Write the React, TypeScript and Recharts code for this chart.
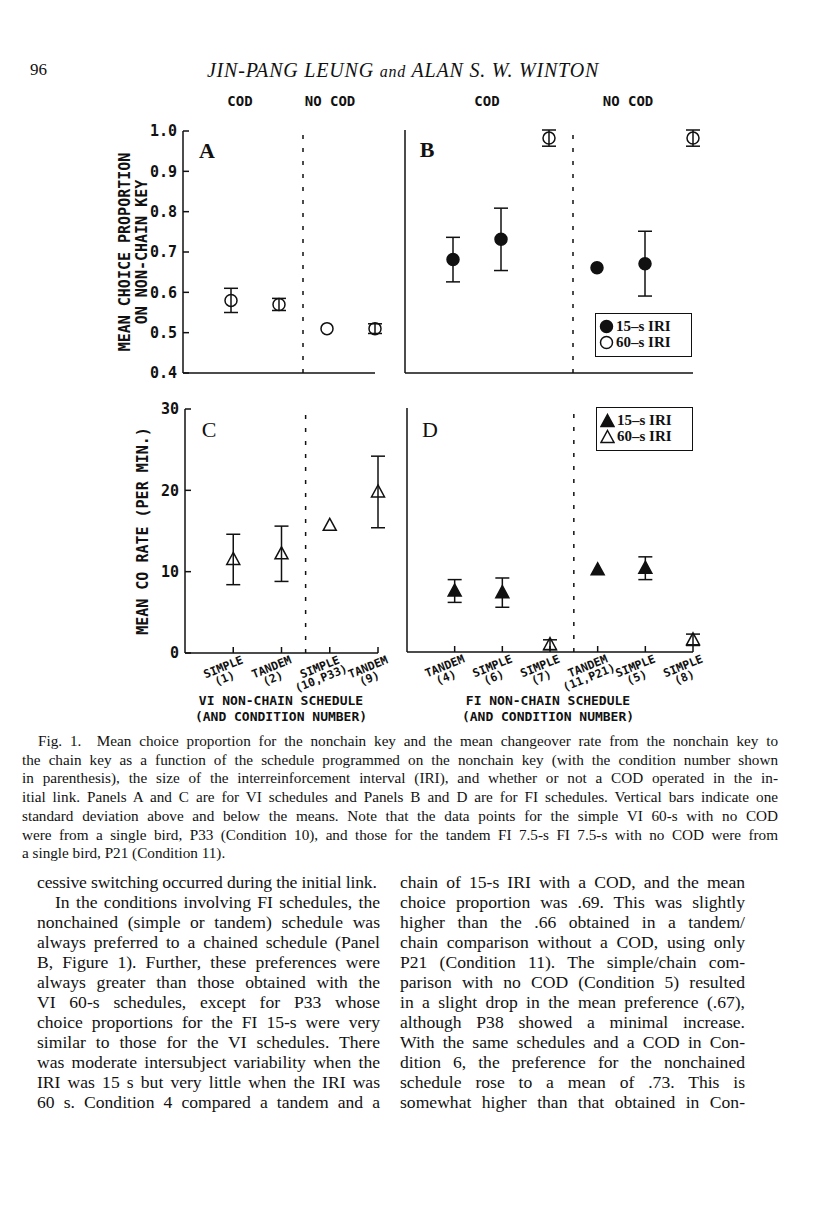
import React from 'react';
import { ScatterChart, Scatter, XAxis, YAxis, ErrorBar, ReferenceLine, Legend } from 'recharts';

// x positions of the schedules on the nonchain key
const viPositions = [1, 2, 3, 4];
const fiPositions = [1, 2, 3, 4, 5, 6];
const viSchedules = ['SIMPLE', 'TANDEM', 'SIMPLE', 'TANDEM'];
const viConditions = ['(1)', '(2)', '(10,P33)', '(9)'];
const fiSchedules = ['TANDEM', 'SIMPLE', 'SIMPLE', 'TANDEM', 'SIMPLE', 'SIMPLE'];
const fiConditions = ['(4)', '(6)', '(7)', '(11,P21)', '(5)', '(8)'];
const viIri = [60, 60, 60, 60];
const fiIri = [15, 15, 60, 15, 15, 60];

// panel A / B : mean choice proportion (+/- 1 SD)
const choiceVI = [0.58, 0.57, 0.51, 0.51];
const choiceVISd = [0.03, 0.015, 0, 0.012];
const choiceFI = [0.68, 0.73, 0.98, 0.66, 0.67, 0.98];
const choiceFISd = [0.055, 0.077, 0.02, 0, 0.08, 0.02];

// panel C / D : mean CO rate per min (+/- 1 SD)
const rateVI = [11.5, 12.2, 15.7, 19.8];
const rateVISd = [3.1, 3.4, 0, 4.4];
const rateFI = [7.5, 7.3, 0.9, 10.1, 10.3, 1.5];
const rateFISd = [1.4, 1.8, 0.6, 0, 1.4, 0.7];

const choiceTicks = [0.4, 0.5, 0.6, 0.7, 0.8, 0.9, 1.0];
const rateTicks = [0, 10, 20, 30];

const INK = '#111';
const MONO = '"DejaVu Sans Mono", monospace';
const SERIF = '"Liberation Serif", "Times New Roman", serif';
const AXIS = { stroke: INK, strokeWidth: 1.5 };

type Row = { x: number; y: number; sd: number; iri: number };

const makeRows = (xs: number[], ys: number[], sds: number[], iri: number[]): Row[] =>
  xs.map((x, i) => ({ x, y: ys[i], sd: sds[i], iri: iri[i] }));

const MarkerGlyph = ({ cx, cy, filled, kind }: { cx: number; cy: number; filled: boolean; kind: string }) => {
  if (kind === 'circle') {
    return <circle cx={cx} cy={cy} r={6} fill={filled ? INK : 'none'} stroke={INK} strokeWidth={1.5} />;
  }
  const pts = `${cx},${cy - 7} ${cx + 6.5},${cy + 5} ${cx - 6.5},${cy + 5}`;
  return <polygon points={pts} fill={filled ? INK : 'none'} stroke={INK} strokeWidth={1.5} />;
};

const ScheduleTick = (props: any) => {
  const { x, y, payload, names, conds } = props;
  const i = Math.round(payload.value) - 1;
  return (
    <g transform={`translate(${x - 10},${y + 14}) rotate(-22)`}>
      <text textAnchor="middle" dominantBaseline="central" fontFamily={MONO} fontWeight="bold" fontSize={11.5} fill={INK}>
        {names[i]}
      </text>
      <text x={-3} y={11} textAnchor="middle" dominantBaseline="central" fontFamily={MONO} fontWeight="bold" fontSize={11.5} fill={INK}>
        {conds[i]}
      </text>
    </g>
  );
};

const AxisTitle = (props: any) => {
  const { viewBox, lines, offsets } = props;
  const cy = viewBox.y + viewBox.height / 2;
  return (
    <g>
      {lines.map((t: string, i: number) => {
        const cx = viewBox.x + offsets[i];
        return (
          <text key={t} x={cx} y={cy} transform={`rotate(-90 ${cx} ${cy})`} textAnchor="middle" dominantBaseline="central"
            fontFamily={MONO} fontWeight="bold" fontSize={15} fill={INK}>
            {t}
          </text>
        );
      })}
    </g>
  );
};

const IriLegend = ({ kind }: { kind: string }) => (
  <div style={{ border: `1.5px solid ${INK}`, background: '#fff', width: 97, height: 44, boxSizing: 'border-box',
    padding: '4px 0 0 3px', fontFamily: SERIF, fontWeight: 'bold', fontSize: 15, lineHeight: '16px', color: INK }}>
    {[15, 60].map((iri) => (
      <div key={iri} style={{ display: 'flex', alignItems: 'center', whiteSpace: 'nowrap' }}>
        <svg width={15} height={15} style={{ marginRight: 2 }}>
          <MarkerGlyph cx={7.5} cy={kind === 'circle' ? 7.5 : 8.5} filled={iri === 15} kind={kind} />
        </svg>
        {`${iri}\u2013s  IRI`}
      </div>
    ))}
  </div>
);

interface PanelProps {
  plotLeft: number;
  plotTop: number;
  plotW: number;
  plotH: number;
  rows: Row[];
  xMax: number;
  xTicks: number[];
  divider: number;
  yDomain: [number, number];
  yTicks: number[];
  kind: string;
  yFormat?: (v: number) => string;
  names?: string[];
  conds?: string[];
  yTitle?: string[];
  yTitleOffsets?: number[];
  legendAt?: { left: number; top: number };
}

const Panel: React.FC<PanelProps> = (p) => {
  const left = p.plotLeft - 80;
  const top = p.plotTop - 20;
  return (
    <div style={{ position: 'absolute', left, top }}>
      <ScatterChart width={p.plotW + 100} height={p.plotH + 80} margin={{ top: 20, right: 20, bottom: 0, left: 0 }}>
        <XAxis type="number" dataKey="x" domain={[0, p.xMax]} ticks={p.xTicks} interval={0}
          height={60} axisLine={AXIS} tickLine={AXIS} tickSize={-6} tickMargin={6}
          tick={p.names ? (t: any) => <ScheduleTick {...t} names={p.names} conds={p.conds} /> : false} />
        <YAxis type="number" dataKey="y" domain={p.yDomain} ticks={p.yTicks} interval={0}
          width={80} axisLine={AXIS} tickLine={AXIS} tickSize={-6} tickMargin={12}
          tickFormatter={p.yFormat}
          tick={p.yFormat ? { fill: INK, fontSize: 15, fontFamily: MONO, fontWeight: 'bold' } : false}
          label={p.yTitle ? <AxisTitle lines={p.yTitle} offsets={p.yTitleOffsets} /> : undefined} />
        <ReferenceLine x={p.divider} stroke={INK} strokeWidth={1.5} strokeDasharray="4 9" />
        <Scatter data={p.rows} isAnimationActive={false}
          shape={(s: any) => <MarkerGlyph cx={s.cx} cy={s.cy} filled={s.payload.iri === 15} kind={p.kind} />}>
          <ErrorBar dataKey="sd" direction="y" width={7} stroke={INK} strokeWidth={1.5} />
        </Scatter>
        {p.legendAt && (
          <Legend layout="vertical" align="center" verticalAlign="middle"
            wrapperStyle={{ position: 'absolute', left: p.legendAt.left - left, top: p.legendAt.top - top, width: 97, height: 44 }}
            content={() => <IriLegend kind={p.kind} />} />
        )}
      </ScatterChart>
    </div>
  );
};

const captionLines = [
  'Fig. 1.\u2002 Mean choice proportion for the nonchain key and the mean changeover rate from the nonchain key to',
  'the chain key as a function of the schedule programmed on the nonchain key (with the condition number shown',
  'in parenthesis), the size of the interreinforcement interval (IRI), and whether or not a COD operated in the in-',
  'itial link. Panels A and C are for VI schedules and Panels B and D are for FI schedules. Vertical bars indicate one',
  'standard deviation above and below the means. Note that the data points for the simple VI 60-s with no COD',
  'were from a single bird, P33 (Condition 10), and those for the tandem FI 7.5-s FI 7.5-s with no COD were from',
  'a single bird, P21 (Condition 11).',
];

const leftColumn = [
  'cessive switching occurred during the initial link.',
  'In the conditions involving FI schedules, the',
  'nonchained (simple or tandem) schedule was',
  'always preferred to a chained schedule (Panel',
  'B, Figure 1). Further, these preferences were',
  'always greater than those obtained with the',
  'VI 60-s schedules, except for P33 whose',
  'choice proportions for the FI 15-s were very',
  'similar to those for the VI schedules. There',
  'was moderate intersubject variability when the',
  'IRI was 15 s but very little when the IRI was',
  '60 s. Condition 4 compared a tandem and a',
];

const rightColumn = [
  'chain of 15-s IRI with a COD, and the mean',
  'choice proportion was .69. This was slightly',
  'higher than the .66 obtained in a tandem/',
  'chain comparison without a COD, using only',
  'P21 (Condition 11). The simple/chain com-',
  'parison with no COD (Condition 5) resulted',
  'in a slight drop in the mean preference (.67),',
  'although P38 showed a minimal increase.',
  'With the same schedules and a COD in Con-',
  'dition 6, the preference for the nonchained',
  'schedule rose to a mean of .73. This is',
  'somewhat higher than that obtained in Con-',
];

const TextLine = ({ text, left, y, width, size, justify, lh, spacing }: any) => (
  <div style={{ position: 'absolute', left, top: y - lh / 2, width, height: lh, lineHeight: `${lh}px`, fontSize: size,
    fontFamily: SERIF, color: INK, whiteSpace: 'nowrap', letterSpacing: spacing || 0,
    textAlign: justify ? 'justify' : 'left', textAlignLast: justify ? 'justify' : 'left' } as React.CSSProperties}>
    {text}
  </div>
);

const Centered = ({ x, y, children, style }: any) => (
  <div style={{ position: 'absolute', left: x, top: y, transform: 'translate(-50%, -50%)', whiteSpace: 'nowrap', color: INK, ...style }}>
    {children}
  </div>
);

const monoHead = { fontFamily: MONO, fontWeight: 'bold', fontSize: 14 };
const letter = { fontFamily: SERIF, fontSize: 22 };

const App: React.FC = () => {
  const fmtChoice = (v: number) => v.toFixed(1);
  const fmtRate = (v: number) => String(v);
  return (
    <div style={{ position: 'absolute', left: 0, top: 0, width: 816, height: 1209, background: '#fff', overflow: 'hidden' }}>
      <div style={{ position: 'absolute', left: 30, top: 60, fontFamily: SERIF, fontSize: 17, color: INK }}>96</div>
      <Centered x={403} y={70} style={{ fontFamily: SERIF, fontStyle: 'italic', fontSize: 20, letterSpacing: 0.8 }}>
        JIN-PANG LEUNG <span style={{ fontSize: 16 }}>and</span> ALAN S. W. WINTON
      </Centered>
      <Centered x={240} y={101} style={monoHead}>COD</Centered>
      <Centered x={330} y={101} style={monoHead}>NO COD</Centered>
      <Centered x={487} y={101} style={monoHead}>COD</Centered>
      <Centered x={628} y={101} style={monoHead}>NO COD</Centered>

      <Panel plotLeft={183} plotTop={131} plotW={192} plotH={242} rows={makeRows(viPositions, choiceVI, choiceVISd, viIri)}
        xMax={4} xTicks={viPositions} divider={2.5} yDomain={[0.4, 1.0]} yTicks={choiceTicks} kind="circle"
        yFormat={fmtChoice} yTitle={['MEAN CHOICE PROPORTION', 'ON NON-CHAIN KEY']} yTitleOffsets={[22, 39]} />
      <Panel plotLeft={405} plotTop={130} plotW={288} plotH={243} rows={makeRows(fiPositions, choiceFI, choiceFISd, fiIri)}
        xMax={6} xTicks={fiPositions} divider={3.5} yDomain={[0.4, 1.0]} yTicks={choiceTicks} kind="circle"
        legendAt={{ left: 595, top: 313 }} />
      <Panel plotLeft={185} plotTop={409} plotW={193} plotH={244} rows={makeRows(viPositions, rateVI, rateVISd, viIri)}
        xMax={4} xTicks={viPositions} divider={2.5} yDomain={[0, 30]} yTicks={rateTicks} kind="triangle"
        yFormat={fmtRate} names={viSchedules} conds={viConditions}
        yTitle={['MEAN CO RATE (PER MIN.)']} yTitleOffsets={[38]} />
      <Panel plotLeft={407} plotTop={408} plotW={286} plotH={244} rows={makeRows(fiPositions, rateFI, rateFISd, fiIri)}
        xMax={6} xTicks={fiPositions} divider={3.5} yDomain={[0, 30]} yTicks={rateTicks} kind="triangle"
        names={fiSchedules} conds={fiConditions} legendAt={{ left: 596, top: 407 }} />

      <Centered x={207} y={151} style={{ ...letter, fontWeight: 'bold' }}>A</Centered>
      <Centered x={427} y={150} style={{ ...letter, fontWeight: 'bold' }}>B</Centered>
      <Centered x={209} y={430} style={letter}>C</Centered>
      <Centered x={430} y={430} style={letter}>D</Centered>

      <Centered x={281} y={700} style={{ ...monoHead, fontSize: 13 }}>VI NON-CHAIN SCHEDULE</Centered>
      <Centered x={281} y={716} style={{ ...monoHead, fontSize: 13 }}>(AND CONDITION NUMBER)</Centered>
      <Centered x={548} y={700} style={{ ...monoHead, fontSize: 13 }}>FI NON-CHAIN SCHEDULE</Centered>
      <Centered x={548} y={716} style={{ ...monoHead, fontSize: 13 }}>(AND CONDITION NUMBER)</Centered>

      {captionLines.map((t, i) => (
        <TextLine key={i} text={t} left={i === 0 ? 38 : 22} width={i === 0 ? 740 : 756} y={741 + 18.7 * i}
          size={15.2} lh={18} justify={i < captionLines.length - 1} />
      ))}
      {leftColumn.map((t, i) => (
        <TextLine key={i} text={t} left={i === 1 ? 55 : 37} width={i === 1 ? 325 : 343} y={882 + 20 * i}
          size={17.6} lh={20} justify={i !== 0} spacing={i === 0 ? -0.15 : 0} />
      ))}
      {rightColumn.map((t, i) => (
        <TextLine key={i} text={t} left={400} width={345} y={882 + 20 * i} size={17.6} lh={20} justify />
      ))}
    </div>
  );
};

export default App;
